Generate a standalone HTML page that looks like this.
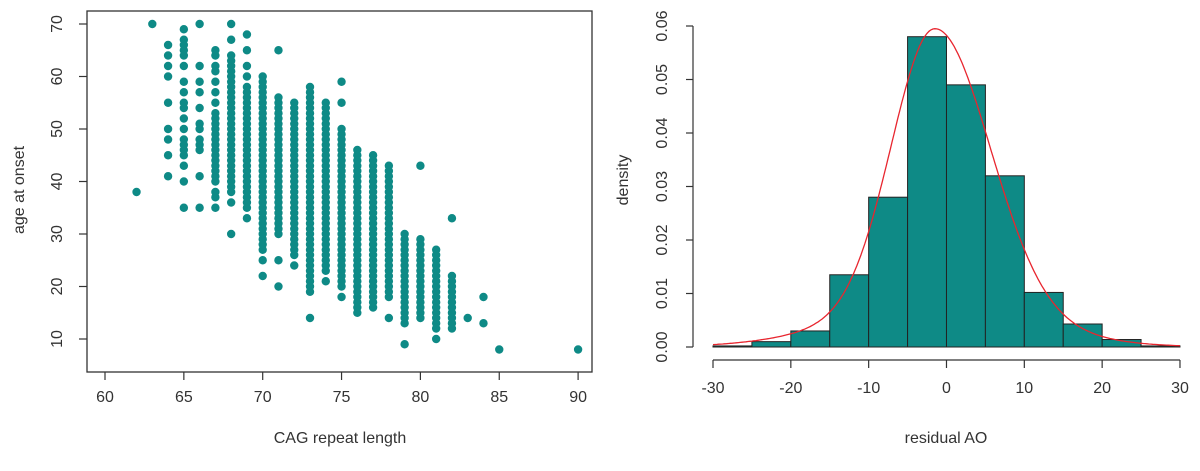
<!DOCTYPE html>
<html><head><style>
body{margin:0;background:#fff}
svg text{font-family:"Liberation Sans",Arial,sans-serif;fill:#333;font-size:16px}
</style></head><body>
<svg id="s" width="1200" height="466" viewBox="0 0 1200 466" xmlns="http://www.w3.org/2000/svg">
<rect width="1200" height="466" fill="#fff"/>
<g id="L"></g><g id="R"></g>
<text x="340" y="443" text-anchor="middle">CAG repeat length</text>
<text transform="translate(24,190) rotate(-90)" text-anchor="middle">age at onset</text>
<text x="946" y="443" text-anchor="middle">residual AO</text>
<text transform="translate(628,180) rotate(-90)" text-anchor="middle">density</text>
</svg>
<script>
var NS="http://www.w3.org/2000/svg";
function el(p,t,a,txt){var e=document.createElementNS(NS,t);for(var k in a)e.setAttribute(k,a[k]);if(txt!=null)e.textContent=txt;document.getElementById(p).appendChild(e);return e;}
var X=function(v){return 105+(v-60)*15.77}, Y=function(a){return 24+(70-a)*5.25};
el("L","rect",{x:87,y:11,width:505,height:361,fill:"none",stroke:"#333","stroke-width":1.3});
for(var v=60;v<=90;v+=5){el("L","line",{x1:X(v),y1:372,x2:X(v),y2:380,stroke:"#333","stroke-width":1.2});el("L","text",{x:X(v),y:402,"text-anchor":"middle"},v);}
for(var a=10;a<=70;a+=10){el("L","line",{x1:87,y1:Y(a),x2:79,y2:Y(a),stroke:"#333","stroke-width":1.2});el("L","text",{transform:"translate(62,"+Y(a)+") rotate(-90)","text-anchor":"middle"},a);}
function R(a,b){var r=[];for(var i=a;i<=b;i++)r.push(i);return r;}
var D={62:[38],63:[70],
64:[41,45,48,50,55,60,62,64,66],
65:[35,40,43,45,46,47,48,50,52,54,55,57,59,62,64,65,66,67,69],
66:[35,41,46,47,48,50,51,54,57,59,62,70],
67:[35,37,38].concat(R(40,53),[55,57,59,61,62,64,65]),
68:[30,36].concat(R(38,64),[67,70]),
69:[33].concat(R(35,58),[60,62,65,68]),
70:[22,25].concat(R(27,60)),
71:[20,25].concat(R(30,56),[65]),
72:[24].concat(R(26,55)),
73:[14].concat(R(19,58)),
74:[21].concat(R(23,55)),
75:[18].concat(R(20,50),[55,59]),
76:R(15,46),77:R(16,45),
78:[14].concat(R(18,43)),
79:[9].concat(R(13,30)),
80:R(14,29).concat([43]),
81:[10].concat(R(12,27)),
82:R(12,22).concat([33]),
83:[14],84:[13,18],85:[8],90:[8]};
for(var k in D)D[k].forEach(function(a){el("L","circle",{cx:X(+k),cy:Y(a),r:4.2,fill:"#0e8a86"});});
var HX=function(v){return 713+(v+30)*7.783}, HY=function(d){return 347-d/0.06*321};
el("R","line",{x1:693,y1:HY(0),x2:693,y2:HY(0.06),stroke:"#333","stroke-width":1.2});
for(var i=0;i<=6;i++){var d=i*0.01,y=HY(d);el("R","line",{x1:686,y1:y,x2:693,y2:y,stroke:"#333","stroke-width":1.2});el("R","text",{transform:"translate(667,"+y+") rotate(-90)","text-anchor":"middle"},d.toFixed(2));}
el("R","line",{x1:HX(-30),y1:360,x2:HX(30),y2:360,stroke:"#333","stroke-width":1.2});
for(var v=-30;v<=30;v+=10){el("R","line",{x1:HX(v),y1:360,x2:HX(v),y2:368,stroke:"#333","stroke-width":1.2});el("R","text",{x:HX(v),y:393,"text-anchor":"middle"},v);}
var H=[0.0002,0.001,0.003,0.0135,0.028,0.058,0.049,0.032,0.0102,0.0043,0.0014,0.0002];
H.forEach(function(h,i){var x0=HX(-30+5*i);el("R","rect",{x:x0,y:HY(h),width:7.783*5,height:HY(0)-HY(h),fill:"#0e8a86",stroke:"#222","stroke-width":1});});
var pts=[];for(var x=-30;x<=30.01;x+=0.25){var d=x+1.5,s=d<0?5.5:7;var f=0.052*Math.exp(-d*d/(2*s*s))+0.0075*Math.exp(-d*d/(2*144));pts.push(HX(x).toFixed(1)+","+HY(f).toFixed(1));}
el("R","polyline",{points:pts.join(" "),fill:"none",stroke:"#e8262f","stroke-width":1.3});
</script>
</body></html>
